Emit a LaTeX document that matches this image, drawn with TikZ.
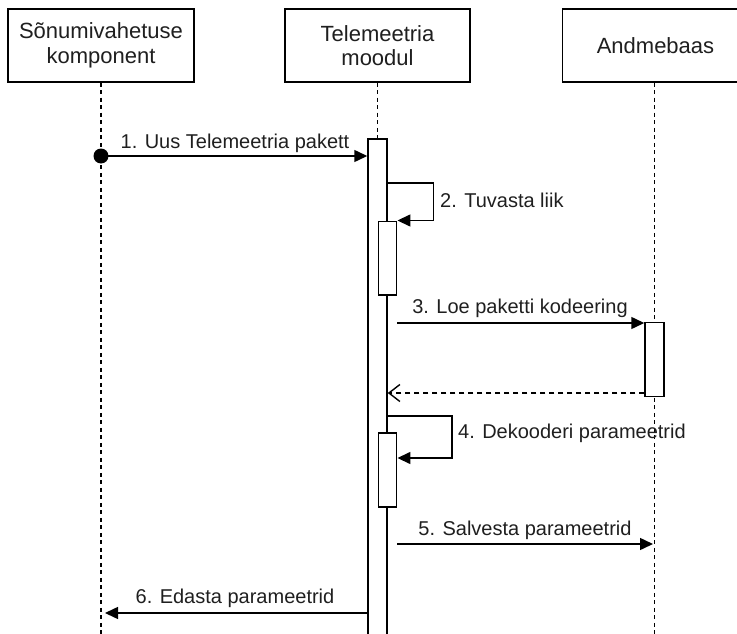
\documentclass[tikz,border=0pt]{standalone}
\usepackage{fontspec}
\setmainfont{Liberation Sans}
\usetikzlibrary{arrows.meta}
\tikzset{
  actor/.style={draw, line width=1.5pt, fill=white, minimum width=186pt, minimum height=73pt,
    inner sep=0pt, align=center, font=\fontsize{22}{24.5}\selectfont, text=black!88},
  life/.style={line width=1.4pt, dash pattern=on 4pt off 3.5pt},
  actbox/.style={draw, line width=1.5pt, fill=white, minimum width=19pt, inner sep=0pt},
  msg/.style={line width=1.5pt, -{Triangle[length=13pt,width=12pt]}},
  ret/.style={line width=1.4pt, dash pattern=on 5pt off 4pt, -{Straight Barb[length=11pt,width=17pt]}},
  lbl/.style={font=\fontsize{20}{22}\selectfont, text=black!88, inner sep=0pt},
  startdot/.style={circle, fill=black, minimum size=15pt, inner sep=0pt},
}
\begin{document}
\begin{tikzpicture}[x=1pt,y=-1pt]
\useasboundingbox (0,0) rectangle (737,634);
% actors
\node[actor] (b1) at (101,45.5) {Sõnumivahetuse\\komponent};
\node[actor, minimum width=185pt] (b2) at (377.5,45.5) {Telemeetria\\moodul};
\node[actor] (b3) at (655.5,45.5) {Andmebaas};
% lifeline ends
\coordinate (e1) at (101,640);
\coordinate (e3) at (654.5,640);
\coordinate (top0) at (377.5,138);
% lifelines
\draw[life] (b1.south -| e1) -- (e1);
\draw[life] (b2.south) -- (top0);
\draw[life] (b3.south -| e3) -- (e3);
% activations
\node[actbox, anchor=north, minimum height=510pt] (a0) at (top0) {};
\node[actbox, minimum width=18.4pt, minimum height=73.3pt] (a1) at (387.5,258.3) {};
\node[actbox, minimum width=18.4pt, minimum height=74pt] (a2) at (387.5,470.2) {};
\node[actbox, minimum height=74pt] (a3) at (654.5,359.7) {};
% message 1
\node[startdot] (dot) at (101,156) {};
\draw[msg] (dot.center) -- (a0.west |- dot.center);
\node[lbl] (l1) at (235,143) {1. Uus Telemeetria pakett};
% message 2 (self)
\coordinate (s2a) at (387,183);
\coordinate (s2b) at (433.5,183);
\coordinate (s2c) at (0,220.5);
\draw[msg] (s2a) -- (s2b) |- (a1.east |- s2c);
\node[lbl, anchor=west] (l2) at (440,200) {2. Tuvasta liik};
% message 3
\coordinate (m3) at (0,323);
\draw[msg] (a1.east |- m3) -- (a3.west |- m3);
\node[lbl] (l3) at (520,308) {3. Loe paketti kodeering};
% return
\coordinate (r3) at (0,393);
\draw[ret] (a3.west |- r3) -- (a0.east |- r3);
% message 4 (self)
\coordinate (s4a) at (387,416);
\coordinate (s4b) at (452,416);
\coordinate (s4c) at (0,458);
\draw[msg] (s4a) -- (s4b) |- (a2.east |- s4c);
\node[lbl, anchor=west] (l4) at (458,433) {4. Dekooderi parameetrid};
% message 5
\coordinate (m5) at (653,544);
\draw[msg] (a2.east |- m5) -- (m5);
\node[lbl] (l5) at (525,530) {5. Salvesta parameetrid};
% message 6
\coordinate (m6) at (105,613);
\draw[msg] (a0.west |- m6) -- (m6);
\node[lbl] (l6) at (235,598) {6. Edasta parameetrid};
\end{tikzpicture}
\end{document}
